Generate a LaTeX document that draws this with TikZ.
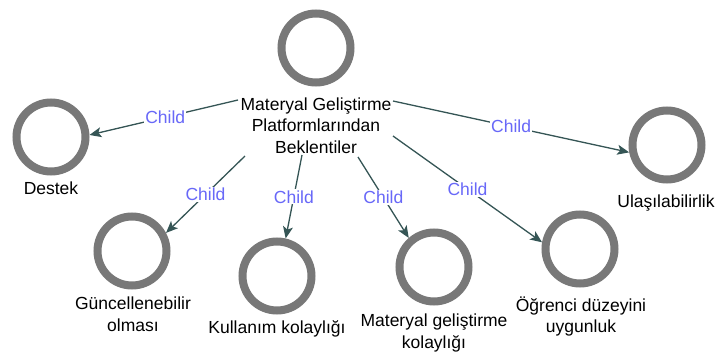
\documentclass[tikz,border=0pt]{standalone}
\usepackage{fontspec}
\setmainfont{Liberation Sans}
\usetikzlibrary{arrows.meta}
\definecolor{ringgray}{HTML}{787878}
\definecolor{edgecol}{HTML}{355555}
\definecolor{childblue}{HTML}{6868F8}
\tikzset{
  ring/.style={circle, draw=ringgray, line width=8pt, minimum size=69pt,
    inner sep=0pt, outer sep=4pt},
  caption/.style={anchor=north, align=center, inner sep=0pt,
    font=\fontsize{17.5}{21.5}\selectfont, text=black},
  link/.style={draw=edgecol, line width=1.3pt,
    -{Stealth[length=12pt, width=10pt, inset=3pt]}},
  tag/.style={fill=white, inner sep=1pt, text=childblue,
    font=\fontsize{17.5}{21}\selectfont}
}
\begin{document}
\begin{tikzpicture}[x=1pt, y=-1pt]
  \useasboundingbox (0,0) rectangle (716,354);

  % root
  \node[ring] (root) at (316,48) {};
  \node[caption] (rootlbl) at (316,97.5)
    {Materyal Geliştirme\\Platformlarından\\Beklentiler};

  % children
  \node[ring] (destek) at (51,137) {};
  \node[caption] (destekl) at (51,182) {Destek};

  \node[ring] (ulas) at (667,145) {};
  \node[caption] (ulasl) at (666,195) {Ulaşılabilirlik};

  \node[ring] (gunc) at (132,251) {};
  \node[caption] (guncl) at (133,297) {Güncellenebilir\\olması};

  \node[ring] (kull) at (277,276) {};
  \node[caption] (kulll) at (277,320) {Kullanım kolaylığı};

  \node[ring] (matgel) at (434,267) {};
  \node[caption] (matgell) at (434,314) {Materyal geliştirme\\kolaylığı};

  \node[ring] (ogr) at (580,249) {};
  \node[caption] (ogrl) at (581,296.5) {Öğrenci düzeyini\\uygunluk};

  % edge origins around the root caption
  \coordinate (s1) at (238,100);
  \coordinate (s2) at (393,101);
  \coordinate (s3) at (245,156);
  \coordinate (s4) at (302,155);
  \coordinate (s5) at (358,157);
  \coordinate (s6) at (393,136);

  % connectors
  \draw[link] (s1) -- node[tag, pos=0.49] {Child} (destek.3);
  \draw[link] (s2) -- node[tag, pos=0.5] {Child} (ulas.191);
  \draw[link] (s3) -- node[tag, pos=0.5] {Child} (gunc.28);
  \draw[link] (s4) -- node[tag, pos=0.5] {Child} (kull.77);
  \draw[link] (s5) -- node[tag, pos=0.5] {Child} (matgel.131);
  \draw[link] (s6) -- node[tag, pos=0.5] {Child} (ogr.170);
\end{tikzpicture}
\end{document}
